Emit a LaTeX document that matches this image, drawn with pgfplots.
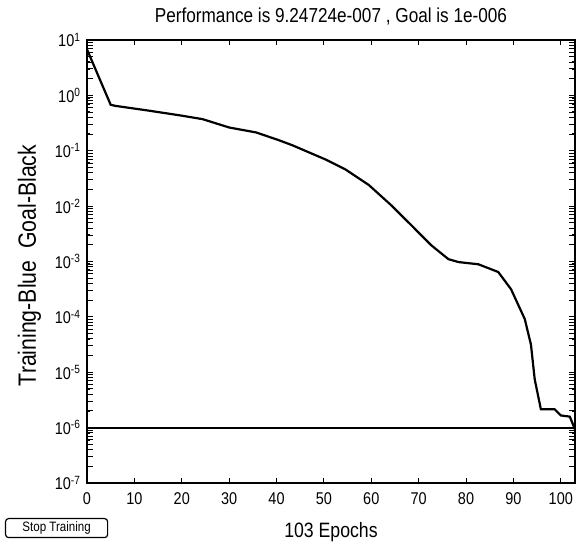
\documentclass[border=0pt]{standalone}
\usepackage{fontspec}
\setmainfont{Liberation Sans}[FakeStretch=0.85]
\usepackage{pgfplots}
\pgfplotsset{compat=1.18}
\begin{document}
\fontsize{8.5}{10}\selectfont
\begin{tikzpicture}
\useasboundingbox (-43.5pt,-30.5pt) rectangle (245pt,241.5pt);
\begin{axis}[
    scale only axis,
    width=244pt, height=221.5pt,
    ymode=log,
    xmin=0, xmax=103,
    ymin=1e-7, ymax=1e1,
    xtick={0,10,...,100},
    ytick={1e-7,1e-6,1e-5,1e-4,1e-3,1e-2,1e-1,1,10},
    yticklabels={10\textsuperscript{-7},10\textsuperscript{-6},10\textsuperscript{-5},
                 10\textsuperscript{-4},10\textsuperscript{-3},10\textsuperscript{-2},
                 10\textsuperscript{-1},10\textsuperscript{0},10\textsuperscript{1}},
    extra y ticks={2e-7,3e-7,4e-7,5e-7,6e-7,7e-7,8e-7,9e-7,
                 2e-6,3e-6,4e-6,5e-6,6e-6,7e-6,8e-6,9e-6,
                 2e-5,3e-5,4e-5,5e-5,6e-5,7e-5,8e-5,9e-5,
                 2e-4,3e-4,4e-4,5e-4,6e-4,7e-4,8e-4,9e-4,
                 2e-3,3e-3,4e-3,5e-3,6e-3,7e-3,8e-3,9e-3,
                 2e-2,3e-2,4e-2,5e-2,6e-2,7e-2,8e-2,9e-2,
                 0.2,0.3,0.4,0.5,0.6,0.7,0.8,0.9,
                 2,3,4,5,6,7,8,9},
    extra y tick labels={},
    extra y tick style={major tick length=1.5pt, tick style={line width=0.6pt}},
    xtick pos=both, ytick pos=both,
    tick align=inside,
    major tick length=2.5pt,
    tick style={black, line width=0.5pt},
    axis line style={line width=0.7pt},
    /pgf/number format/assume math mode=true,
    xticklabel style={yshift=-2pt},
    title={Performance is 9.24724e-007 , Goal is 1e-006},
    title style={font=\fontsize{10.1}{11}\selectfont, yshift=-1.5pt},
    xlabel={103 Epochs},
    xlabel style={font=\fontsize{10.4}{12}\selectfont, yshift=-3pt},
    ylabel={Training-Blue\ \ Goal-Black},
    ylabel style={font=\fontsize{12.5}{14}\selectfont, yshift=1pt, xshift=-2pt},
]
\addplot[black, line width=1.1pt] coordinates {
(0,6.76) (5,0.676) (6,0.646) (12.6,0.537) (19.5,0.437) (24.4,0.372)
(30,0.263) (35.7,0.214) (40.5,0.155) (43.3,0.126) (50.4,0.0692)
(54.6,0.0457) (59.5,0.0240) (64.3,0.0102) (68.5,0.00447) (72.7,0.00195)
(76.3,0.00110) (78.4,9.77e-4) (82.6,8.91e-4) (86.8,6.46e-4) (89.5,3.16e-4)
(92.4,9.12e-5) (93.7,3.16e-5) (94.5,7.41e-6) (95.8,2.14e-6) (98.7,2.14e-6)
(100,1.66e-6) (101.9,1.58e-6) (103,9.25e-7)};
\addplot[black, line width=1.1pt] coordinates {(0,1e-6) (103,1e-6)};
\end{axis}
\node[draw, line width=0.6pt, rounded corners=1.5pt, minimum width=51pt,
      minimum height=9.5pt, inner sep=0pt, anchor=north west,
      font=\fontsize{6.8}{8}\selectfont] at (-41pt,-17.5pt) {Stop Training};
\end{tikzpicture}
\end{document}
